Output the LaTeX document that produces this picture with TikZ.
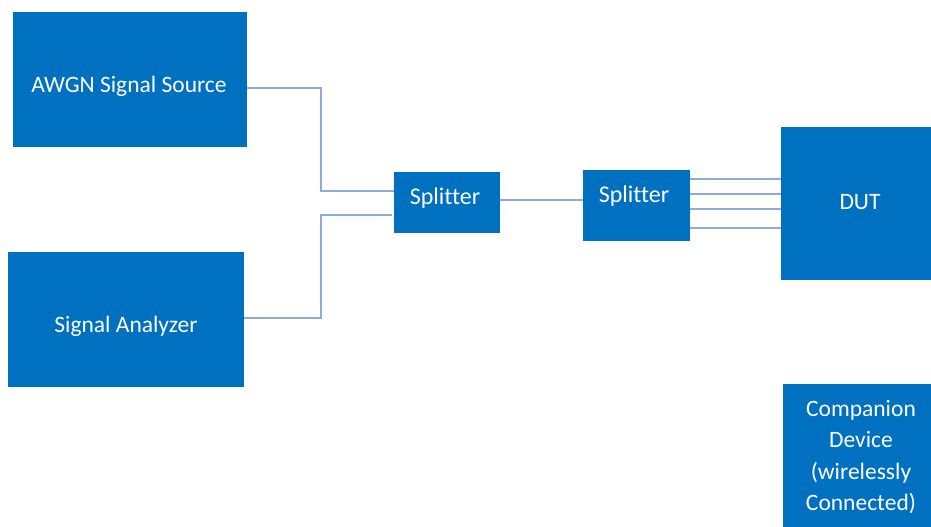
\documentclass[tikz,border=0pt]{standalone}
\usepackage{fontspec}
\setmainfont{Carlito}[Ligatures=NoCommon]
\definecolor{boxblue}{HTML}{0070C0}
\definecolor{wire}{HTML}{8EA9DB}
\begin{document}
\begin{tikzpicture}[x=1pt,y=-1pt,
  box/.style={fill=boxblue,draw=none,anchor=north west,inner sep=0pt},
  txt/.style={text=white,font=\fontsize{23.5}{31.3}\selectfont,align=center,inner sep=0pt},
  stxt/.style={text=white,font=\fontsize{24}{28}\selectfont,inner sep=0pt},
  wireline/.style={draw=wire,line width=1.2pt}]
\useasboundingbox (0,0) rectangle (931,527);
\node[box,minimum width=234pt,minimum height=135pt] (awgn) at (13,12) {};
\node[box,minimum width=236pt,minimum height=135pt] (sa) at (8,252) {};
\node[box,minimum width=106pt,minimum height=61pt] (s1) at (394,172) {};
\node[box,minimum width=107pt,minimum height=71pt] (s2) at (583,170) {};
\node[box,minimum width=150pt,minimum height=153pt] (dut) at (781,127) {};
\node[box,minimum width=148pt,minimum height=143pt] (comp) at (783,384) {};
\node[txt] (awgnt) at (129,86) {AWGN Signal Source};
\node[txt] (sat) at (126,326) {Signal Analyzer};
\node[stxt] (s1t) at (445,198) {Splitter};
\node[stxt] (s2t) at (634,196) {Splitter};
\node[txt] (dutt) at (860,202) {DUT};
\node[txt] (compt) at (861,457) {Companion\\Device\\(wirelessly\\Connected)};
\coordinate (j1) at (321,88);
\coordinate (j2) at (321,318);
\draw[wireline] (awgn.east |- j1) -- (j1) |- (s1.west |- 0,191);
\draw[wireline] (sa.east |- j2) -- (j2) |- ([xshift=-2pt]s1.west |- 0,215);
\draw[wireline] (s1.east |- 0,200) -- (s2.west |- 0,200);
\foreach \yy in {179,194,209,228}
  \draw[wireline] (s2.east |- 0,\yy) -- (dut.west |- 0,\yy);
\end{tikzpicture}
\end{document}
